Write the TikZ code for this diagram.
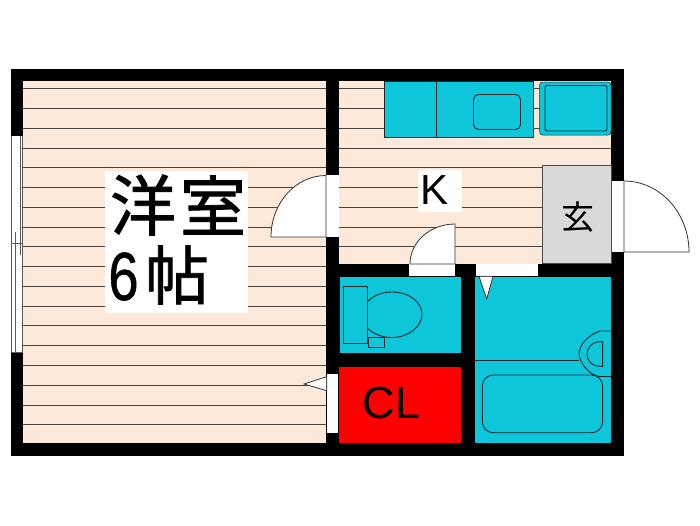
\documentclass[tikz,border=0pt]{standalone}
\usepackage{fontspec}
\setmainfont{Liberation Sans}
\newfontfamily\cjkfont{Noto Sans CJK JP}
\newfontfamily\cjkheavy[FakeBold=1.2]{Noto Sans CJK JP}
\newfontfamily\sixfont[FakeBold=0.8]{Liberation Sans}
\usepackage{color}
\definecolor{floorbg}{HTML}{FDE9D9}
\definecolor{wetbg}{HTML}{0DC6DA}
\definecolor{entrybg}{HTML}{D9D9DB}
\definecolor{hatch}{HTML}{4A4440}
\tikzset{
  Wall/.style = {fill=black, draw=none},
  Room/.style = {draw=black, line width=0.7pt},
  Opening/.style = {fill=white, draw=none},
  DoorLeaf/.style = {fill=white, draw=black!80, line width=0.8pt},
  HatchLine/.style = {draw=hatch, line width=0.9pt},
  SashLine/.style = {draw=black!65, line width=0.7pt},
  Fixture/.style = {draw=black!85, line width=0.9pt},
  Label/.style = {text=black, inner sep=0pt, anchor=center},
}
\begin{document}
\begin{tikzpicture}[x=1pt, y=-1pt]
	\useasboundingbox (0,0) rectangle (700,525);

	% Wand aussen
	\fill[Wall] (11,68.5) rectangle (624,456);

	% Boden
	\fill[floorbg] (23,81) rectangle (326,443);
	\fill[floorbg] (339,81) rectangle (611,263.5);

	% Dielen
	\foreach \k in {0,...,17} {
			\draw[HatchLine] (23,88.7+19.77*\k) -- (326,88.7+19.77*\k);
		}
	\foreach \k in {0,...,8} {
			\draw[HatchLine] (339,88.7+19.77*\k) -- (611,88.7+19.77*\k);
		}

	% Textfelder
	\node[fill=white, minimum width=143pt, minimum height=142.5pt, inner sep=0pt] (labelbg) at (176.5,242) {};
	\node[fill=white, minimum width=44pt, minimum height=42pt, inner sep=0pt] (kbg) at (440,191) {};

	% Fenster
	\fill[Opening] (11,136) rectangle (23,352);
	\draw[SashLine] (11.4,136) -- (11.4,352);
	\draw[SashLine] (22.5,136) -- (22.5,352);
	\draw[SashLine] (20,136) -- (20,255);
	\draw[SashLine] (15,232) -- (15,352);
	\draw[SashLine] (11,243.5) -- (23,243.5);
	\draw[SashLine] (11,352) -- (23,352);

	% Kueche
	\fill[wetbg, Fixture, line width=0.6pt] (384,81) rectangle (533,137.7);
	\draw[Fixture] (436,81) -- (436,137.7);
	\draw[Fixture, rounded corners=5pt] (473.5,94.5) rectangle (520.5,129.5);
	\fill[wetbg, Fixture, line width=0.5pt, rounded corners=3pt] (539.5,82) rectangle (611,135);
	\draw[Fixture, rounded corners=2pt] (545,85.5) rectangle (607,131);

	% Eingang
	\fill[entrybg, draw=black!70, line width=0.7pt] (542.7,165) rectangle (611,263.5);

	% Nassraeume
	\fill[wetbg, Room] (339,276.3) rectangle (461,353);
	\fill[wetbg, Room] (474,276.3) rectangle (611,443);
	\fill[red, draw=none] (339,366.7) rectangle (461,443);

	% Oeffnungen
	\fill[Opening] (326,175) rectangle (339,237);
	\fill[Opening] (612,180.7) rectangle (624,252);
	\fill[Opening] (409,264) rectangle (455,276);
	\fill[Opening] (476,264) rectangle (538,276);
	\fill[Opening] (326.7,374) rectangle (338,433);

	% Tueren
	\draw[DoorLeaf] (326,175.5) arc[start angle=-90, end angle=-180, x radius=55, y radius=61.5] -- (326,237) -- cycle;
	\draw[DoorLeaf] (624,181) arc[start angle=-90, end angle=0, x radius=65, y radius=71] -- (624,252) -- cycle;
	\draw[DoorLeaf] (455,224) arc[start angle=-90, end angle=-180, x radius=45, y radius=40] -- (455,264) -- cycle;
	\draw[DoorLeaf] (304,384) -- (326.7,376.7) -- (326.7,390.7) -- cycle;
	\draw[DoorLeaf] (479,276.3) -- (493,276.3) -- (486.7,299) -- cycle;

	% Toilette
	\draw[Fixture] (343,286.7) rectangle (367,343.3);
	\draw[Fixture] (367,302) .. controls (374,295) and (382,292) .. (392,292)
	.. controls (410,292) and (422,303) .. (422,314)
	.. controls (422,327) and (408,337.5) .. (392,337.5)
	.. controls (382,337.5) and (374,334) .. (367,328);
	\draw[Fixture] (368,337.6) rectangle (384.7,347);

	% Bad
	\draw[Fixture] (474,360) -- (579,360);
	\draw[Fixture] (611,331) -- (600,331) .. controls (588,335) and (579,345) .. (579,354)
	.. controls (579,362) and (590,376.5) .. (600,376.5) -- (611,376.5);
	\draw[Fixture] (602.6,341.5) -- (597,342) .. controls (591,343) and (587,349) .. (587,354)
	.. controls (587,360) and (591,365) .. (597,366) -- (602.6,366.5) -- cycle;
	\draw[Fixture, rounded corners=11pt] (482.3,375) rectangle (602.6,432.7);

	% Beschriftung
	\node[Label, font=\cjkheavy\fontsize{66}{66}\selectfont] (yolabel) at (143,205) {洋};
	\node[Label, font=\cjkheavy\fontsize{66}{66}\selectfont] (shitsulabel) at (213,205) {室};
	\node[Label, xscale=.8, font=\sixfont\fontsize{68}{68}\selectfont] (sixlabel) at (123.5,276.5) {6};
	\node[Label, font=\cjkheavy\fontsize{64}{64}\selectfont] (jolabel) at (177,275) {帖};
	\node[Label, font=\fontsize{42}{42}\selectfont] (klabel) at (434.5,190.5) {K};
	\node[Label, font=\cjkfont\fontsize{33}{33}\selectfont] (genkanlabel) at (578,217) {玄};
	\node[Label, font=\fontsize{45}{45}\selectfont] (cllabel) at (391.5,402.5) {CL};

\end{tikzpicture}
\end{document}
